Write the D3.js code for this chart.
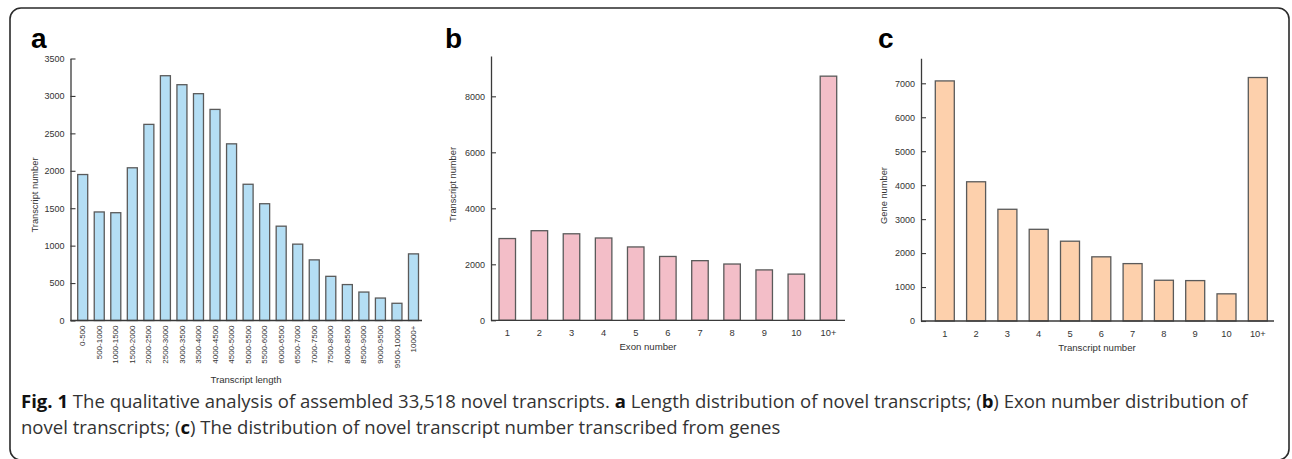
<!DOCTYPE html>
<html>
<head>
<meta charset="utf-8">
<script src="https://cdn.jsdelivr.net/npm/d3@7"></script>
<style>
  html, body { margin: 0; padding: 0; background: #fff; }
  svg { display: block; }
</style>
</head>
<body>
<svg id="chart" width="1292" height="459"></svg>
<script>
// ---- data ----
const lengthCategories = ["0-500","500-1000","1000-1500","1500-2000","2000-2500","2500-3000","3000-3500","3500-4000","4000-4500","4500-5000","5000-5500","5500-6000","6000-6500","6500-7000","7000-7500","7500-8000","8000-8500","8500-9000","9000-9500","9500-10000","10000+"];
const lengthCounts = [1950,1450,1440,2040,2620,3270,3150,3030,2820,2360,1820,1560,1260,1020,810,590,480,380,300,230,890];
const lengthTicks = [0,500,1000,1500,2000,2500,3000,3500];

const exonCategories = ["1","2","3","4","5","6","7","8","9","10","10+"];
const exonCounts = [2920,3200,3090,2940,2620,2280,2130,2010,1800,1650,8720];
const exonTicks = [0,2000,4000,6000,8000];

const transcriptCategories = ["1","2","3","4","5","6","7","8","9","10","10+"];
const geneCounts = [7070,4100,3290,2700,2350,1890,1690,1200,1190,800,7170];
const geneTicks = [0,1000,2000,3000,4000,5000,6000,7000];

const captionLine1 = [
  {t:"Fig. 1", b:true}, {t:" The qualitative analysis of assembled 33,518 novel transcripts. "},
  {t:"a", b:true}, {t:" Length distribution of novel transcripts; ("}, {t:"b", b:true},
  {t:") Exon number distribution of"}
];
const captionLine2 = [
  {t:"novel transcripts; ("}, {t:"c", b:true},
  {t:") The distribution of novel transcript number transcribed from genes"}
];

// ---- layout ----
const svg = d3.select("#chart");
const FONT = "'Liberation Sans', Arial, Helvetica, sans-serif";

svg.append("rect")
  .attr("x", 10).attr("y", 8).attr("width", 1279).attr("height", 452)
  .attr("rx", 11).attr("ry", 11)
  .attr("fill", "#fff").attr("stroke", "#2a2a2a").attr("stroke-width", 1.6);

const panels = [
  { letter:"a", letterX:31, cats:lengthCategories, vals:lengthCounts, ticks:lengthTicks,
    axisX0:70.5, axisX1:422, barL:77.7, barR:418.5, padInner:0.395,
    yBottom:320.5, yTop:58.5, yMax:3500, fill:"#b4def4",
    xTitle:"Transcript length", xTitleX:246, xTitleY:382.5,
    yTitle:"Transcript number", yTitleX:37.5, yTitleY:195, rotateX:true },
  { letter:"b", letterX:445, cats:exonCategories, vals:exonCounts, ticks:exonTicks,
    axisX0:491, axisX1:845, barL:499, barR:836.7, padInner:0.486,
    yBottom:320.3, yTop:56, yMax:9440, fill:"#f3bec8",
    xTitle:"Exon number", xTitleX:648, xTitleY:350,
    yTitle:"Transcript number", yTitleX:455.5, yTitleY:184.5, rotateX:false },
  { letter:"c", letterX:878, cats:transcriptCategories, vals:geneCounts, ticks:geneTicks,
    axisX0:921, axisX1:1274, barL:935.3, barR:1267.3, padInner:0.393,
    yBottom:321, yTop:58.3, yMax:7736, fill:"#fdd0ac",
    xTitle:"Transcript number", xTitleX:1097, xTitleY:350.5,
    yTitle:"Gene number", yTitleX:886.5, yTitleY:195.5, rotateX:false }
];

panels.forEach(p => {
  const g = svg.append("g");
  const x = d3.scaleBand().domain(p.cats).range([p.barL, p.barR])
    .paddingInner(p.padInner).paddingOuter(0);
  const y = d3.scaleLinear().domain([0, p.yMax]).range([p.yBottom, p.yTop]);

  // bars
  g.selectAll("rect.bar").data(p.cats.map((c,i)=>({c, v:p.vals[i]})))
    .enter().append("rect").attr("class","bar")
    .attr("x", d => x(d.c)).attr("width", x.bandwidth())
    .attr("y", d => y(d.v)).attr("height", d => y(0) - y(d.v))
    .attr("fill", p.fill).attr("stroke", "#5a5a5a").attr("stroke-width", 1.3);

  // y axis
  const ya = g.append("g").attr("transform", `translate(${p.axisX0},0)`)
    .call(d3.axisLeft(y).tickValues(p.ticks).tickSizeInner(-5).tickSizeOuter(0).tickPadding(6).tickFormat(d3.format("d")));
  ya.select(".domain").attr("stroke", "#3a3a3a").attr("stroke-width", 1.3);
  ya.selectAll(".tick line").attr("stroke", "#3a3a3a").attr("stroke-width", 1.1);
  ya.selectAll(".tick text").attr("font-family", FONT).attr("font-size", 9).attr("fill", "#333");

  // x axis
  const xa = g.append("g").attr("transform", `translate(0,${p.yBottom})`)
    .call(d3.axisBottom(x).tickSize(0).tickPadding(p.rotateX ? 4 : 9));
  xa.select(".domain").remove();
  xa.selectAll(".tick text").attr("font-family", FONT).attr("fill", "#333")
    .attr("font-size", p.rotateX ? 8 : 9.3);
  if (p.rotateX) {
    xa.selectAll(".tick text")
      .attr("transform", "rotate(-90)")
      .attr("text-anchor", "end")
      .attr("x", -5).attr("y", 0).attr("dy", "0.32em");
  }
  g.append("line")
    .attr("x1", p.axisX0).attr("x2", p.axisX1)
    .attr("y1", p.yBottom).attr("y2", p.yBottom)
    .attr("stroke", "#3a3a3a").attr("stroke-width", 1.3);

  // titles
  g.append("text").attr("x", p.xTitleX).attr("y", p.xTitleY)
    .attr("text-anchor", "middle").attr("font-family", FONT).attr("font-size", 9.6)
    .attr("fill", "#333").text(p.xTitle);
  g.append("text")
    .attr("transform", `translate(${p.yTitleX},${p.yTitleY}) rotate(-90)`)
    .attr("text-anchor", "middle").attr("font-family", FONT).attr("font-size", 9.3)
    .attr("fill", "#333").text(p.yTitle);

  // panel letter
  g.append("text").attr("x", p.letterX).attr("y", 48)
    .attr("font-family", FONT).attr("font-weight", "bold").attr("font-size", 28)
    .attr("fill", "#000").text(p.letter);
});

// caption (tall, slightly condensed face: larger size compressed horizontally)
const CAP_FONT = "'Open Sans', 'Noto Sans', sans-serif";
const CAP_SIZE = 18;
const capG = svg.append("g");
function caption(parent, parts, yPos) {
  const t = parent.append("text").attr("x", 0).attr("y", yPos)
    .attr("font-family", CAP_FONT).attr("font-size", CAP_SIZE).attr("fill", "#333");
  parts.forEach(s => {
    t.append("tspan").attr("font-weight", s.b ? "bold" : "normal")
      .attr("fill", s.b ? "#111" : "#333").text(s.t);
  });
  return t;
}
const l1 = caption(capG, captionLine1, 408);
caption(capG, captionLine2, 434);
const sx = 1227 / l1.node().getComputedTextLength();
capG.attr("transform", `translate(21,0) scale(${sx},1)`);
</script>
</body>
</html>
